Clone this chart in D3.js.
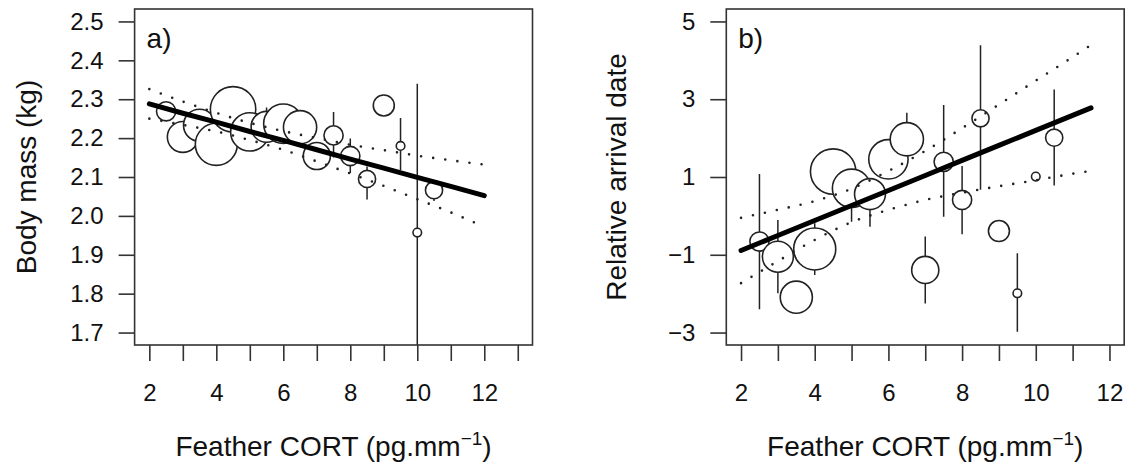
<!DOCTYPE html>
<html>
<head>
<meta charset="utf-8">
<script src="https://cdn.jsdelivr.net/npm/d3@7"></script>
<style>
  html, body { margin: 0; padding: 0; background: #fff; }
  svg { display: block; font-family: "Liberation Sans", Arial, Helvetica, sans-serif; }
</style>
</head>
<body>
<div id="chart"></div>
<script>
// Feather CORT groups (x) and group sample sizes (circle area)
const cort = [2.5, 3, 3.5, 4, 4.5, 5, 5.5, 6, 6.5, 7, 7.5, 8, 8.5, 9, 9.5, 10, 10.5];
const groupN = [5, 13, 14, 24, 28, 20, 13, 21, 15, 10, 5, 5, 4, 6, 1, 1, 4];

// a) body mass (kg): mean and error bar ends
const massMean = [2.269, 2.203, 2.233, 2.184, 2.274, 2.216, 2.229, 2.237, 2.228, 2.154, 2.207, 2.154, 2.095, 2.284, 2.180, 1.957, 2.066];
const massLow  = [2.255, 2.190, 2.220, 2.170, 2.260, 2.200, 2.215, 2.225, 2.215, 2.140, 2.150, 2.110, 2.042, 2.275, 2.118, 1.574, 2.038];
const massHigh = [2.280, 2.215, 2.245, 2.200, 2.290, 2.230, 2.279, 2.250, 2.240, 2.170, 2.267, 2.199, 2.127, 2.292, 2.252, 2.340, 2.080];

// a) fitted line and confidence band
const fitXA = [2, 3, 4, 5, 6, 7, 8, 9, 10, 11, 12];
const fitA  = [2.288, 2.264, 2.241, 2.217, 2.194, 2.170, 2.146, 2.123, 2.099, 2.076, 2.052];
const upA   = [2.326, 2.294, 2.265, 2.239, 2.218, 2.200, 2.183, 2.169, 2.155, 2.143, 2.132];
const loA   = [2.250, 2.234, 2.217, 2.195, 2.170, 2.140, 2.109, 2.077, 2.043, 2.009, 1.972];

// b) relative arrival date: mean and error bar ends
const arrMean = [-0.66, -1.05, -2.09, -0.85, 1.14, 0.71, 0.56, 1.455, 1.97, -1.39, 1.39, 0.41, 2.51, -0.39, -1.99, 1.01, 2.01];
const arrLow  = [-2.40, -1.99, -2.30, -1.52, 0.90, -0.15, -0.28, 1.20, 1.30, -2.25, -0.02, -0.47, 0.67, -0.50, -2.98, 0.95, 0.78];
const arrHigh = [1.08, -0.105, -1.90, -0.19, 1.40, 1.00, 0.80, 1.70, 2.65, -0.53, 2.85, 1.28, 4.39, -0.28, -0.96, 1.07, 3.25];

// b) fitted line and confidence band
const fitXB = [2, 3, 4, 5, 6, 7, 8, 9, 10, 11, 11.5];
const fitB  = [-0.890, -0.504, -0.118, 0.268, 0.654, 1.040, 1.426, 1.812, 2.198, 2.584, 2.777];
const upB   = [-0.050, 0.156, 0.382, 0.698, 1.154, 1.670, 2.256, 2.862, 3.478, 4.084, 4.397];
const loB   = [-1.730, -1.164, -0.618, -0.162, 0.154, 0.410, 0.596, 0.762, 0.918, 1.084, 1.157];

const aXTicks = [2, 3, 4, 5, 6, 7, 8, 9, 10, 11, 12, 13];
const aYTicks = [1.7, 1.8, 1.9, 2.0, 2.1, 2.2, 2.3, 2.4, 2.5];
const bXTicks = [2, 3, 4, 5, 6, 7, 8, 9, 10, 11, 12];
const bYTicks = [-3, -1, 1, 3, 5];

const W = 1130, H = 468;
const svg = d3.select('#chart').append('svg').attr('width', W).attr('height', H);

const rScale = d3.scaleSqrt().domain([0, 28]).range([0, 22.7]);
const INK = '#222';

function panel(o) {
    const x = d3.scaleLinear().domain(o.xDomain).range(o.xRange);
    const y = d3.scaleLinear().domain(o.yDomain).range(o.yRange);
    const g = svg.append('g');

    const clipId = 'clip-' + o.id;
    svg.append('clipPath').attr('id', clipId).append('rect')
        .attr('x', o.xRange[0]).attr('y', o.yRange[1])
        .attr('width', o.xRange[1] - o.xRange[0]).attr('height', o.yRange[0] - o.yRange[1]);
    const plot = g.append('g').attr('clip-path', `url(#${clipId})`);

    const pts = cort.map((c, i) => ({ x: c, y: o.mean[i], lo: o.low[i], hi: o.high[i], n: groupN[i] }));

    // error bars
    plot.selectAll('line.err').data(pts).enter().append('line')
        .attr('x1', (d) => x(d.x)).attr('x2', (d) => x(d.x))
        .attr('y1', (d) => y(d.lo)).attr('y2', (d) => y(d.hi))
        .attr('stroke', INK).attr('stroke-width', 1.5);

    // circles sized by group size
    plot.selectAll('circle').data(pts).enter().append('circle')
        .attr('cx', (d) => x(d.x)).attr('cy', (d) => y(d.y))
        .attr('r', (d) => rScale(d.n))
        .attr('fill', '#fff').attr('stroke', INK).attr('stroke-width', 1.6);

    // confidence band (dotted)
    const line = d3.line().x((d) => x(d[0])).y((d) => y(d[1])).curve(d3.curveMonotoneX);
    [o.up, o.lo].forEach((band) => {
        plot.append('path').datum(o.fitX.map((v, i) => [v, band[i]]))
            .attr('d', line).attr('fill', 'none')
            .attr('stroke', '#222').attr('stroke-width', 2.6)
            .attr('stroke-linecap', 'round').attr('stroke-dasharray', '0,12.2');
    });

    // fitted line
    plot.append('path').datum(o.fitX.map((v, i) => [v, o.fit[i]]))
        .attr('d', d3.line().x((d) => x(d[0])).y((d) => y(d[1])))
        .attr('fill', 'none').attr('stroke', '#000').attr('stroke-width', 5)
        .attr('stroke-linecap', 'round');

    // box
    g.append('rect')
        .attr('x', o.xRange[0]).attr('y', o.yRange[1])
        .attr('width', o.xRange[1] - o.xRange[0]).attr('height', o.yRange[0] - o.yRange[1])
        .attr('fill', 'none').attr('stroke', '#333').attr('stroke-width', 1.6);

    // axes
    const styleAxis = (sel) => {
        sel.select('.domain').remove();
        sel.selectAll('line').attr('stroke', '#333').attr('stroke-width', 1.6);
        sel.selectAll('text').attr('fill', '#111').style('font-size', '24px')
            .style('font-family', '"Liberation Sans", Arial, sans-serif');
    };
    g.append('g').attr('transform', `translate(0,${o.yRange[0]})`)
        .call(d3.axisBottom(x).tickValues(o.xTicks).tickSize(16).tickPadding(23)
            .tickFormat((d) => (d % 2 === 0 ? d : '')))
        .call(styleAxis);
    g.append('g').attr('transform', `translate(${o.xRange[0]},0)`)
        .call(d3.axisLeft(y).tickValues(o.yTicks).tickSize(16).tickPadding(15)
            .tickFormat(o.yFormat))
        .call(styleAxis);

    // panel letter
    g.append('text').attr('x', o.xRange[0] + 12).attr('y', 48)
        .style('font-size', '28px').attr('fill', '#111').text(o.letter);

    // x title
    const xt = g.append('text')
        .attr('x', (o.xRange[0] + o.xRange[1]) / 2).attr('y', 456)
        .attr('text-anchor', 'middle').style('font-size', '28px').attr('fill', '#111');
    xt.append('tspan').text('Feather CORT (pg.mm');
    xt.append('tspan').attr('dy', -11).style('font-size', '19px').text('\u22121');
    xt.append('tspan').attr('dy', 11).text(')');

    // y title
    g.append('text')
        .attr('transform', `translate(${o.yTitleX},${(o.yRange[0] + o.yRange[1]) / 2}) rotate(-90)`)
        .attr('text-anchor', 'middle').style('font-size', '28px').attr('fill', '#111')
        .text(o.yTitle);
}

panel({
    id: 'a', letter: 'a)',
    xDomain: [1.56, 13.44], xRange: [134.6, 532.5],
    yDomain: [1.668, 2.532], yRange: [345, 9],
    xTicks: aXTicks, yTicks: aYTicks, yFormat: d3.format('.1f'),
    mean: massMean, low: massLow, high: massHigh,
    fitX: fitXA, fit: fitA, up: upA, lo: loA,
    yTitle: 'Body mass (kg)', yTitleX: 36
});

panel({
    id: 'b', letter: 'b)',
    xDomain: [1.6, 12.4], xRange: [726.3, 1124.2],
    yDomain: [-3.32, 5.32], yRange: [345, 9],
    xTicks: bXTicks, yTicks: bYTicks, yFormat: d3.format('d'),
    mean: arrMean, low: arrLow, high: arrHigh,
    fitX: fitXB, fit: fitB, up: upB, lo: loB,
    yTitle: 'Relative arrival date', yTitleX: 626
});
</script>
</body>
</html>
